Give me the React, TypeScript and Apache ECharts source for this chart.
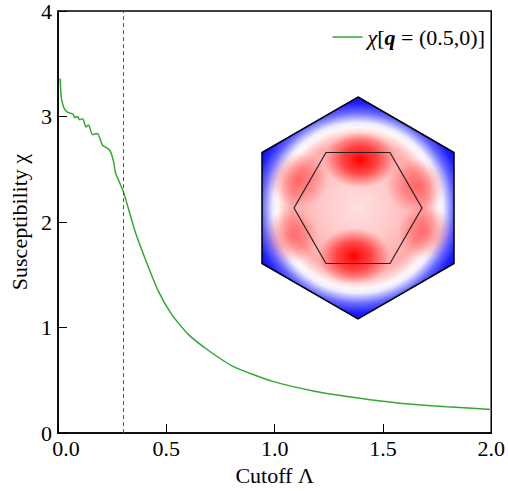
import React, { useEffect, useRef } from "react";
import * as echarts from "echarts";

const lambdaValues = [
  0.010, 0.015, 0.023, 0.030, 0.045, 0.060, 0.071, 0.076, 0.091, 0.099,
  0.114, 0.129, 0.141, 0.159, 0.182, 0.205, 0.227, 0.242, 0.258, 0.265,
  0.303, 0.356, 0.401, 0.462, 0.523, 0.599, 0.690, 0.810, 0.992, 1.190,
  1.386, 1.568, 1.795, 2.0,
];
const chiValues = [
  3.36, 3.18, 3.11, 3.07, 3.04, 3.03, 3.02, 2.99, 3.0, 2.97,
  2.98, 2.90, 2.92, 2.83, 2.84, 2.73, 2.70, 2.67, 2.56, 2.47,
  2.28, 1.91, 1.66, 1.35, 1.13, 0.94, 0.79, 0.63, 0.49, 0.395,
  0.333, 0.286, 0.249, 0.224,
];
const cutoffMarker = [0.3];
const seriesName = "chi";

const FONT = "'Liberation Serif', 'Times New Roman', serif";
const FS = 22;

export default function App() {
  const ref = useRef<HTMLDivElement>(null);
  useEffect(() => {
    if (!ref.current) return;
    const chart = echarts.init(ref.current, null, { renderer: "svg" });
    const data = lambdaValues.map((x, i) => [x, chiValues[i]]);

    const outer = [[358, 97], [454, 152.5], [454, 263.5], [358, 319], [262, 263.5], [262, 152.5]];
    const inner = [[326, 152.5], [390, 152.5], [422, 208], [390, 263.5], [326, 263.5], [294, 208]];
    const blob = (x: number, y: number, rx: number, ry: number, c0: string, cm: string, c1: string) => ({
      type: "ellipse",
      shape: { cx: x, cy: y, rx, ry },
      silent: true,
      style: {
        fill: {
          type: "radial", x: 0.5, y: 0.5, r: 0.5,
          colorStops: [
            { offset: 0, color: c0 },
            { offset: 0.5, color: cm },
            { offset: 1, color: c1 },
          ],
        },
      },
    });

    chart.setOption({
      animation: false,
      backgroundColor: "#fff",
      grid: { left: 55, top: 5, right: 13, bottom: 57, show: true, borderColor: "#000", borderWidth: 1.5 },
      legend: {
        right: 18, top: 21, itemWidth: 30, itemHeight: 1.5, itemGap: 6,
        icon: "rect",
        formatter: () => "{i|χ}[{b|q} = (0.5,0)]",
        textStyle: {
          fontFamily: FONT, fontSize: FS, color: "#000",
          rich: {
            i: { fontFamily: FONT, fontSize: FS, fontStyle: "italic", color: "#000" },
            b: { fontFamily: FONT, fontSize: FS, fontStyle: "italic", fontWeight: "bold", color: "#000" },
          },
        },
      },
      xAxis: {
        type: "value", min: 0, max: 2, interval: 0.5,
        name: "Cutoff Λ", nameLocation: "middle", nameGap: 30,
        nameTextStyle: { fontFamily: FONT, fontSize: FS, color: "#000" },
        axisLine: { show: true, lineStyle: { color: "#000", width: 1.5 } },
        axisTick: { inside: true, length: 9, lineStyle: { color: "#000", width: 1 } },
        axisLabel: {
          fontFamily: FONT, fontSize: FS, lineHeight: 16, color: "#000", margin: 7,
          formatter: (v: number) => (v === 0 ? "{first|0.0}" : v.toFixed(1)),
          rich: {
            first: { fontFamily: FONT, fontSize: FS, lineHeight: 16, color: "#000", padding: [0, 0, 0, 16] },
          },
        },
        splitLine: { show: false },
      },
      yAxis: {
        type: "value", min: 0, max: 4, interval: 1,
        name: "Susceptibility χ", nameLocation: "middle", nameGap: 28,
        nameTextStyle: { fontFamily: FONT, fontSize: FS, color: "#000" },
        axisLine: { show: true, lineStyle: { color: "#000", width: 1.5 } },
        axisTick: { inside: true, length: 9, lineStyle: { color: "#000", width: 1 } },
        axisLabel: { fontFamily: FONT, fontSize: FS, lineHeight: 16, color: "#000", margin: 6 },
        splitLine: { show: false },
      },
      series: [
        {
          name: seriesName,
          type: "line",
          data,
          symbol: "none",
          smooth: 0.2,
          lineStyle: { color: "#33a833", width: 1.5 },
          itemStyle: { color: "#33a833" },
          markLine: {
            silent: true,
            symbol: ["none", "none"],
            label: { show: false },
            lineStyle: { type: [4, 3], color: "#555", width: 1 },
            data: cutoffMarker.map((v) => ({ xAxis: v })),
          },
        },
      ],
      graphic: [
        {
          type: "polygon",
          shape: { points: outer },
          silent: true,
          style: {
            fill: {
              type: "radial", x: 358, y: 208, r: 115, global: true,
              colorStops: [
                { offset: 0, color: "#ffe0e0" },
                { offset: 0.3, color: "#ffcaca" },
                { offset: 0.48, color: "#ffb4b4" },
                { offset: 0.58, color: "#ffacac" },
                { offset: 0.64, color: "#ffcccc" },
                { offset: 0.7, color: "#fff6f6" },
                { offset: 0.74, color: "#eeeeff" },
                { offset: 0.83, color: "#6a6aff" },
                { offset: 0.91, color: "#2020ff" },
                { offset: 1, color: "#0000ff" },
              ],
            },
            stroke: "none",
          },
        },
        blob(416, 186, 30, 27, "rgba(255,40,40,0.55)", "rgba(255,50,50,0.35)", "rgba(255,60,60,0)"),
        blob(425, 232, 27, 27, "rgba(255,40,40,0.55)", "rgba(255,50,50,0.35)", "rgba(255,60,60,0)"),
        blob(298, 180, 30, 27, "rgba(255,40,40,0.55)", "rgba(255,50,50,0.35)", "rgba(255,60,60,0)"),
        blob(291, 236, 27, 27, "rgba(255,40,40,0.55)", "rgba(255,50,50,0.35)", "rgba(255,60,60,0)"),
        blob(360, 160, 36, 28, "rgba(255,0,0,1)", "rgba(255,20,20,0.7)", "rgba(255,40,40,0)"),
        blob(354, 256, 36, 28, "rgba(255,0,0,1)", "rgba(255,20,20,0.7)", "rgba(255,40,40,0)"),
        {
          type: "polygon",
          shape: { points: outer },
          silent: true,
          style: { fill: "none", stroke: "#000", lineWidth: 1.5 },
        },
        {
          type: "polygon",
          shape: { points: inner },
          silent: true,
          style: { fill: "none", stroke: "#222", lineWidth: 1.2 },
        },
      ],
    });
    return () => chart.dispose();
  }, []);
  return (
    <div
      ref={ref}
      style={{ position: "fixed", left: 0, top: 0, width: 508, height: 491 }}
    />
  );
}
